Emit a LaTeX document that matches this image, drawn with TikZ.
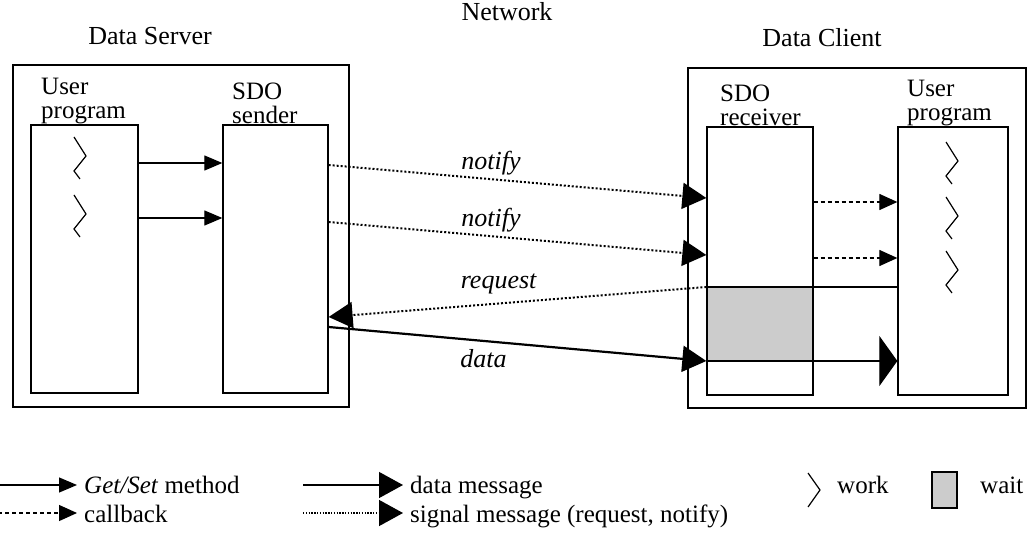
\documentclass[tikz,border=0pt]{standalone}
\usepackage{fontspec}
\setmainfont{Liberation Serif}
\usetikzlibrary{arrows.meta}
\begin{document}
\begin{tikzpicture}[x=1pt,y=-1pt,
  every node/.style={font=\fontsize{25}{24}\selectfont, inner sep=0pt},
  blk/.style 2 args={draw, line width=1.3pt, inner sep=0pt, minimum width=#1, minimum height=#2},
  lbl/.style={align=left, anchor=south west},
  gs/.style={line width=1.2pt, -{Triangle[length=18pt,width=15pt]}},
  cb/.style={line width=1.2pt, dash pattern=on 4pt off 3pt, -{Triangle[length=18pt,width=16pt]}},
  sig/.style={line width=2pt, dash pattern=on 2pt off 2pt, -{Triangle[length=24pt,width=26pt]}},
  dmsg/.style={line width=2.2pt, -{Triangle[length=24pt,width=26pt]}},
  tall/.style={line width=1.2pt, -{Triangle[length=18pt,width=50pt]}},
  plain/.style={line width=1.2pt},
  msg/.style={font=\fontsize{26}{24}\selectfont\itshape, anchor=base},
  leg/.style={font=\fontsize{25}{24}\selectfont, anchor=base west},
  zz/.pic={\draw[line width=1.2pt] (-6,0) -- (6,19) -- (-6,34) -- (0,42);}
]
\useasboundingbox (0,0) rectangle (1028,548);

% titles
\node[anchor=base, font=\fontsize{26}{24}\selectfont] (tnet) at (507,21) {Network};
\node[anchor=base, font=\fontsize{26}{24}\selectfont] (tsrv) at (150,45) {Data Server};
\node[anchor=base, font=\fontsize{26}{24}\selectfont] (tcli) at (822,47) {Data Client};

% server side
\node[blk={336pt}{342pt}] (server) at (181,236) {};
\node[blk={107pt}{268pt}] (suprog) at (84.5,259) {};
\node[blk={105pt}{268pt}] (sender) at (275.5,259) {};
\node[lbl] (tsup) at (41,124) {User\\program};
\node[lbl] (tsnd) at (232,124) {SDO\\sender};
\pic at (80,137) {zz};
\pic at (80,195) {zz};

% client side
\node[blk={338pt}{340pt}] (client) at (857,238) {};
\fill[black!20] (707,287) rectangle (813,361);
\node[blk={106pt}{268pt}] (recv) at (760,261) {};
\node[blk={110pt}{268pt}] (cuprog) at (953,261) {};
\node[lbl] (trcv) at (720,126) {SDO\\receiver};
\node[lbl] (tcup) at (907,126) {User\\program};
\pic at (952,142) {zz};
\pic at (952,197) {zz};
\pic at (952,251) {zz};

% named end points
\coordinate (waitTL) at (recv.west |- 0,287);
\coordinate (waitTR) at (recv.east |- 0,287);
\coordinate (waitBL) at (recv.west |- 0,361);
\coordinate (waitBR) at (recv.east |- 0,361);
\draw[plain] (waitTL) -- (waitTR);
\draw[plain] (waitBL) -- (waitBR);

% get/set calls in server
\draw[gs] (suprog.east |- 0,163) -- (sender.west |- 0,163);
\draw[gs] (suprog.east |- 0,218) -- (sender.west |- 0,218);

% network messages
\draw[sig] (sender.east |- 0,165) -- (recv.west |- 0,198) node[msg, pos=0.43, above=3pt] (ln1) {notify};
\draw[sig] (sender.east |- 0,222) -- (recv.west |- 0,255) node[msg, pos=0.43, above=3pt] (ln2) {notify};
\draw[sig] (waitTL) -- (sender.east |- 0,317) node[msg, pos=0.55, above=8pt] (lrq) {request};
\draw[dmsg] (sender.east |- 0,327) -- (waitBL) node[msg, pos=0.41, below=7pt] (ldt) {data};

% client callbacks
\draw[cb] (recv.east |- 0,202) -- (cuprog.west |- 0,202);
\draw[cb] (recv.east |- 0,258) -- (cuprog.west |- 0,258);
\draw[plain] (waitTR) -- (cuprog.west |- 0,287);
\draw[tall] (waitBR) -- (cuprog.west |- 0,361);

% legend
\coordinate (l1a) at (-2,485); \coordinate (l1b) at (77,485);
\coordinate (l2a) at (-2,513); \coordinate (l2b) at (77,513);
\coordinate (l3a) at (303,485); \coordinate (l3b) at (403,485);
\coordinate (l4a) at (303,513); \coordinate (l4b) at (403,513);
\draw[gs] (l1a) -- (l1b);
\draw[cb] (l2a) -- (l2b);
\draw[dmsg, line width=1.3pt] (l3a) -- (l3b);
\draw[sig, line width=1.4pt, dash pattern=on 1.4pt off 1.4pt] (l4a) -- (l4b);
\node[leg] (lg1) at (84,493) {\textit{Get/Set} method};
\node[leg] (lg2) at (84,522) {callback};
\node[leg] (lg3) at (410,493) {data message};
\node[leg] (lg4) at (410,522) {signal message (request, notify)};
\draw[line width=1.2pt] (808,473) -- (820,490) -- (808,507);
\node[leg] (lg5) at (837,493) {work};
\node[draw, line width=1.2pt, fill=black!20, minimum width=25pt, minimum height=36pt] (lgw) at (944.5,490) {};
\node[leg] (lg6) at (980,493) {wait};
\end{tikzpicture}
\end{document}
